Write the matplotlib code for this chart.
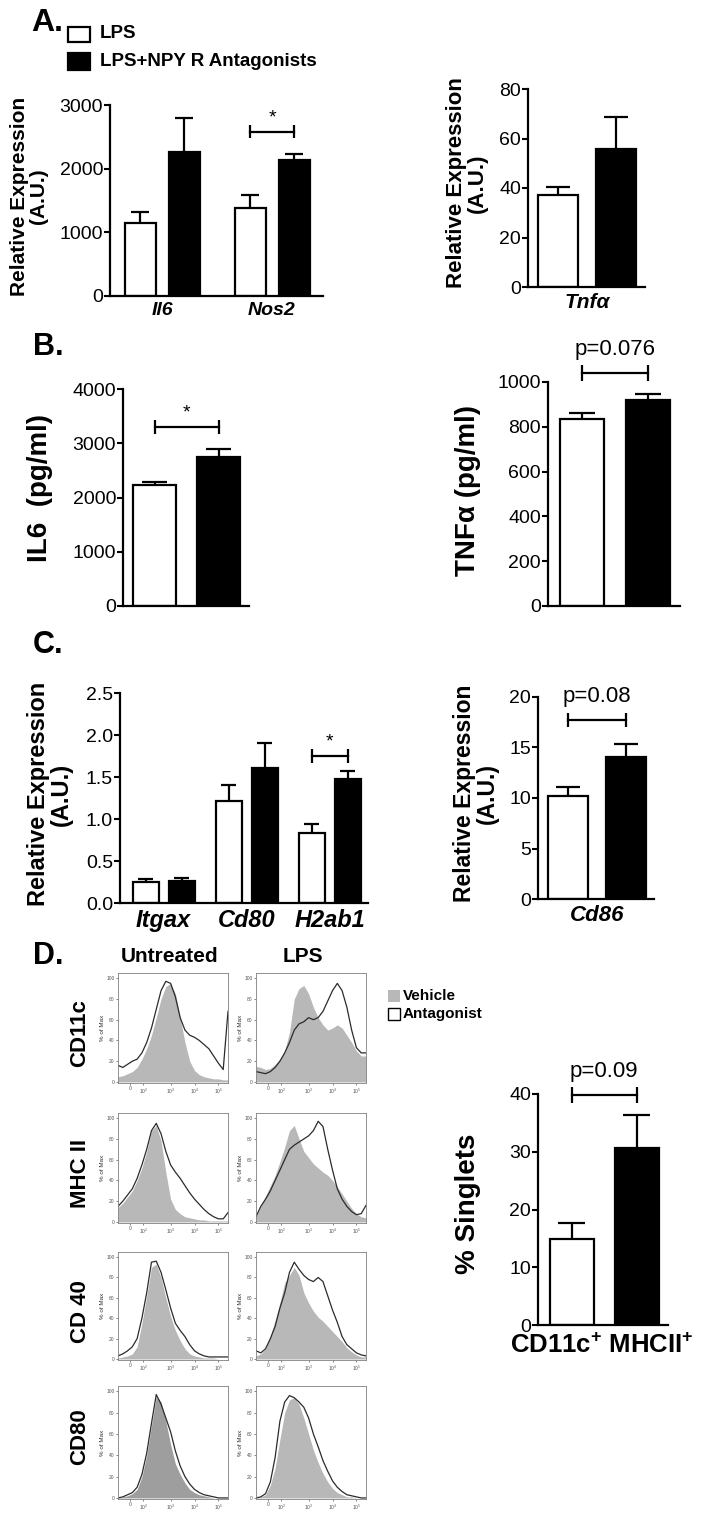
import numpy as np
import matplotlib

matplotlib.use("Agg")
import matplotlib.pyplot as plt
from matplotlib.patches import Rectangle

plt.rcParams["font.family"] = ["Liberation Sans", "DejaVu Sans"]
plt.rcParams["mathtext.fontset"] = "custom"
plt.rcParams["mathtext.rm"] = "Liberation Sans"
plt.rcParams["mathtext.bf"] = "Liberation Sans:bold"
plt.rcParams["mathtext.it"] = "Liberation Sans:italic"

W, H = 704, 1518

# ---------------- data ----------------
# A. qPCR, relative expression (mean, sem)
a_genes = ["Il6", "Nos2"]
a_lps = [1150, 1390]
a_lps_sem = [170, 200]
a_ant = [2260, 2135]
a_ant_sem = [530, 90]

tnf_genes = ["Tnfα"]
tnf_lps = [37.2]
tnf_lps_sem = [3.3]
tnf_ant = [55.8]
tnf_ant_sem = [12.7]

# B. ELISA (pg/ml)
il6_lps = [2230]
il6_lps_sem = [50]
il6_ant = [2750]
il6_ant_sem = [135]

tnfp_lps = [836]
tnfp_lps_sem = [27]
tnfp_ant = [921]
tnfp_ant_sem = [27]

# C. activation markers
c_genes = ["Itgax", "Cd80", "H2ab1"]
c_lps = [0.245, 1.22, 0.835]
c_lps_sem = [0.045, 0.19, 0.105]
c_ant = [0.262, 1.61, 1.48]
c_ant_sem = [0.036, 0.30, 0.095]

cd86_genes = ["Cd86"]
cd86_lps = [10.2]
cd86_lps_sem = [0.85]
cd86_ant = [14.05]
cd86_ant_sem = [1.25]

# D. % singlets CD11c+ MHCII+
sing_lps = [14.9]
sing_lps_sem = [2.8]
sing_ant = [30.6]
sing_ant_sem = [5.8]

# D. flow histograms (% of max) on a biexponential display scale
hist_x = [0.8, 1.0, 1.2, 1.4, 1.6, 1.8, 2.0, 2.2, 2.4, 2.6, 2.8, 3.0,
          3.2, 3.4, 3.6, 3.8, 4.0, 4.2, 4.4, 4.6, 4.8, 5.0, 5.2, 5.4]
hist_ticks = [1.3, 1.85, 3.0, 4.0, 5.0]
hist_ticklabels = ["0", "$10^2$", "$10^3$", "$10^4$", "$10^5$"]

cd11c_untr_veh = [5, 6, 8, 10, 14, 22, 32, 45, 62, 80, 92, 95, 85, 62, 38, 20, 11, 7, 5, 4, 3, 3, 2, 2]
cd11c_untr_ant = [16, 14, 17, 20, 22, 28, 38, 52, 70, 88, 97, 95, 82, 62, 50, 45, 43, 40, 36, 32, 25, 18, 12, 68]
cd11c_lps_veh = [15, 14, 12, 13, 17, 22, 30, 48, 80, 90, 93, 85, 72, 62, 55, 50, 52, 55, 52, 45, 38, 30, 25, 25]
cd11c_lps_ant = [10, 9, 8, 10, 14, 20, 28, 38, 50, 56, 58, 62, 60, 62, 68, 78, 88, 95, 88, 72, 50, 33, 28, 28]
mhc_untr_veh = [14, 18, 24, 30, 40, 52, 68, 88, 93, 78, 48, 22, 12, 8, 5, 4, 3, 2, 2, 1, 1, 1, 1, 1]
mhc_untr_ant = [15, 20, 26, 32, 42, 55, 70, 88, 95, 85, 68, 55, 48, 42, 35, 28, 22, 17, 12, 8, 5, 3, 3, 9]
mhc_lps_veh = [5, 15, 25, 35, 45, 58, 72, 88, 93, 80, 68, 62, 56, 52, 48, 45, 40, 34, 27, 20, 13, 8, 5, 4]
mhc_lps_ant = [5, 15, 22, 30, 40, 50, 60, 70, 74, 77, 80, 83, 88, 97, 92, 70, 50, 32, 22, 15, 10, 7, 8, 16]
cd40_untr_veh = [1, 2, 3, 5, 12, 35, 62, 90, 93, 80, 60, 42, 28, 18, 10, 5, 3, 2, 1, 1, 1, 0, 0, 0]
cd40_untr_ant = [3, 5, 8, 12, 20, 40, 65, 95, 96, 85, 68, 50, 35, 28, 22, 14, 8, 5, 3, 2, 2, 2, 2, 2]
cd40_lps_veh = [3, 5, 10, 22, 38, 55, 75, 82, 90, 82, 65, 55, 47, 41, 37, 32, 27, 22, 17, 11, 7, 4, 2, 2]
cd40_lps_ant = [8, 6, 10, 20, 32, 50, 65, 85, 95, 88, 82, 78, 76, 80, 76, 62, 48, 36, 22, 14, 10, 6, 4, 3]
cd80_untr_veh = [0, 1, 2, 4, 8, 20, 40, 68, 95, 90, 72, 50, 32, 22, 14, 8, 5, 3, 2, 1, 0, 0, 0, 0]
cd80_untr_ant = [0, 1, 3, 5, 10, 22, 42, 70, 97, 88, 75, 62, 44, 30, 20, 13, 8, 5, 3, 2, 1, 0, 0, 0]
cd80_lps_veh = [0, 1, 3, 12, 28, 55, 80, 92, 94, 88, 75, 60, 45, 33, 23, 15, 9, 5, 3, 1, 1, 0, 0, 0]
cd80_lps_ant = [0, 1, 4, 15, 38, 72, 90, 96, 94, 90, 85, 75, 60, 48, 35, 25, 16, 10, 6, 3, 2, 1, 0, 0]

hist_rows = ["CD11c", "MHC II", "CD 40", "CD80"]
hist_data = [
    [(cd11c_untr_veh, cd11c_untr_ant), (cd11c_lps_veh, cd11c_lps_ant)],
    [(mhc_untr_veh, mhc_untr_ant), (mhc_lps_veh, mhc_lps_ant)],
    [(cd40_untr_veh, cd40_untr_ant), (cd40_lps_veh, cd40_lps_ant)],
    [(cd80_untr_veh, cd80_untr_ant), (cd80_lps_veh, cd80_lps_ant)],
]

fig = plt.figure(figsize=(W / 100, H / 100), dpi=100)


def px_axes(left, top, right, bottom):
    return fig.add_axes([left / W, 1 - bottom / H, (right - left) / W, (bottom - top) / H])


def bar_panel(box, labels, lps, lps_sem, ant, ant_sem, ymax, ystep, fmt,
              first, gap, off, width, label_size=14):
    ax = px_axes(*box)
    n = len(lps)
    xw = [first + i * gap for i in range(n)]
    xb = [x + off for x in xw]
    ax.bar(xw, lps, width, color="white", edgecolor="black", lw=1.6, zorder=2)
    ax.bar(xb, ant, width, color="black", edgecolor="black", lw=1.6, zorder=2)
    for xs, m, e in ((xw, lps, lps_sem), (xb, ant, ant_sem)):
        tops = [a + b for a, b in zip(m, e)]
        ax.vlines(xs, m, tops, color="black", lw=1.6, zorder=1)
        ax.hlines(tops, [x - 0.3 * width for x in xs], [x + 0.3 * width for x in xs],
                  color="black", lw=1.6, zorder=1)
    ax.set_xlim(0, box[2] - box[0])
    ax.set_ylim(0, ymax)
    ax.spines[["top", "right"]].set_visible(False)
    ax.spines["left"].set_linewidth(1.6)
    ax.spines["bottom"].set_linewidth(1.6)
    ticks = np.arange(0, ymax + ystep / 2, ystep)
    ax.set_yticks(ticks, [fmt.format(t) for t in ticks])
    ax.tick_params(axis="y", direction="out", length=4, width=1.5, labelsize=14, pad=1)
    if labels:
        ax.set_xticks([(a + b) / 2 for a, b in zip(xw, xb)], labels)
        for t in ax.get_xticklabels():
            t.set_fontstyle("italic")
            t.set_fontweight("bold")
            t.set_fontsize(label_size)
    else:
        ax.set_xticks([])
    ax.tick_params(axis="x", length=0, pad=4)
    ax.patch.set_alpha(0)
    return ax, xw, xb


def bracket(ax, x1, x2, y, text, ymax, star=True):
    d = 0.034 * ymax
    ax.plot([x1, x2], [y, y], color="black", lw=1.6, clip_on=False)
    ax.vlines([x1, x2], y - d, y + d, color="black", lw=1.6, clip_on=False)
    if star:
        ax.annotate(text, ((x1 + x2) / 2, y), xytext=(0, 10), textcoords="offset points",
                    ha="center", va="center", fontsize=14, annotation_clip=False)
    else:
        ax.annotate(text, ((x1 + x2) / 2, y), xytext=(0, 17), textcoords="offset points",
                    ha="center", va="center", fontsize=16, annotation_clip=False)


def ylab(x, y, s, size):
    fig.text(x / W, 1 - y / H, s, rotation=90, ha="center", va="center",
             fontsize=size, fontweight="bold", linespacing=1.0)


# ---------------- panel A ----------------
fig.text(31 / W, 1 - 23 / H, "A.", fontsize=23, fontweight="bold", ha="left", va="center")
fig.add_artist(Rectangle((68 / W, 1 - 42 / H), 22 / W, 15 / H, transform=fig.transFigure,
                         facecolor="white", edgecolor="black", lw=1.6))
fig.add_artist(Rectangle((68 / W, 1 - 70 / H), 22 / W, 17 / H, transform=fig.transFigure,
                         facecolor="black", edgecolor="black", lw=1.6))
fig.text(100 / W, 1 - 34 / H, "LPS", fontsize=13.5, fontweight="bold", va="center")
fig.text(100 / W, 1 - 61 / H, "LPS+NPY R Antagonists", fontsize=13.5, fontweight="bold", va="center")

ax, xw, xb = bar_panel((110, 105, 323, 296), a_genes, a_lps, a_lps_sem, a_ant, a_ant_sem,
                       3000, 1000, "{:.0f}", 30, 110, 44, 31, label_size=14)
bracket(ax, xw[1], xb[1], 2580, "*", 3000)
ylab(29, 196, "Relative Expression\n(A.U.)", 15)

ax, xw, xb = bar_panel((528, 89, 645, 287), tnf_genes, tnf_lps, tnf_lps_sem, tnf_ant, tnf_ant_sem,
                       80, 20, "{:.0f}", 30, 0, 58, 40, label_size=15)
ylab(467, 183, "Relative Expression\n(A.U.)", 16)

# ---------------- panel B ----------------
fig.text(33 / W, 1 - 347 / H, "B.", fontsize=22, fontweight="bold", ha="left", va="center")
ax, xw, xb = bar_panel((123, 389, 249, 606), None, il6_lps, il6_lps_sem, il6_ant, il6_ant_sem,
                       4000, 1000, "{:.0f}", 31.5, 0, 64, 43)
bracket(ax, xw[0], xb[0], 3300, "*", 4000)
ylab(40, 488, "IL6  (pg/ml)", 20)

ax, xw, xb = bar_panel((548, 382, 680, 606), None, tnfp_lps, tnfp_lps_sem, tnfp_ant, tnfp_ant_sem,
                       1000, 200, "{:.0f}", 34, 0, 66, 44)
bracket(ax, xw[0], xb[0], 1040, "p=0.076", 1000, star=False)
ylab(468, 490, "TNFα (pg/ml)", 20)

# ---------------- panel C ----------------
fig.text(33 / W, 1 - 645 / H, "C.", fontsize=22, fontweight="bold", ha="left", va="center")
ax, xw, xb = bar_panel((120, 693, 368, 903), c_genes, c_lps, c_lps_sem, c_ant, c_ant_sem,
                       2.5, 0.5, "{:.1f}", 25.5, 83, 36, 26, label_size=17)
bracket(ax, xw[2], xb[2], 1.75, "*", 2.5)
ylab(50, 794, "Relative Expression\n(A.U.)", 17)

ax, xw, xb = bar_panel((538, 697, 654, 899), cd86_genes, cd86_lps, cd86_lps_sem, cd86_ant, cd86_ant_sem,
                       20, 5, "{:.0f}", 29.5, 0, 58.5, 40, label_size=16)
bracket(ax, xw[0], xb[0], 17.7, "p=0.08", 20, star=False)
ylab(476, 793, "Relative Expression\n(A.U.)", 16.5)

# ---------------- panel D ----------------
fig.text(33 / W, 1 - 956 / H, "D.", fontsize=22, fontweight="bold", ha="left", va="center")
fig.text(170 / W, 1 - 956 / H, "Untreated", fontsize=15, fontweight="bold", ha="center", va="center")
fig.text(303 / W, 1 - 956 / H, "LPS", fontsize=15, fontweight="bold", ha="center", va="center")

col_x = [(118, 228), (256, 366)]
row_y = [(973, 1083), (1113, 1223), (1252, 1360), (1386, 1499)]
row_label_y = [1033, 1173, 1312, 1437]
for r, name in enumerate(hist_rows):
    fig.text(80 / W, 1 - row_label_y[r] / H, name, rotation=90, fontsize=16,
             fontweight="bold", ha="center", va="center")
    for c in range(2):
        veh, ant = hist_data[r][c]
        ax = px_axes(col_x[c][0], row_y[r][0], col_x[c][1], row_y[r][1])
        shade = "#9e9e9e" if (r == 3 and c == 0) else "#b8b8b8"
        ax.fill_between(hist_x, veh, color=shade, lw=0)
        ax.plot(hist_x, ant, color="#2b2b2b", lw=0.9)
        ax.set_xlim(0.8, 5.4)
        ax.set_ylim(-1, 105)
        for s in ax.spines.values():
            s.set_linewidth(0.6)
            s.set_color("#808080")
        ax.set_yticks([0, 20, 40, 60, 80, 100])
        ax.set_xticks(hist_ticks, hist_ticklabels)
        ax.tick_params(labelsize=3.5, length=1.5, width=0.5, pad=1, colors="#555555")
        ax.set_ylabel("% of Max", fontsize=4.5, labelpad=1, color="#333333")

# histogram legend
fig.add_artist(Rectangle((388 / W, 1 - 1002 / H), 12 / W, 12 / H, transform=fig.transFigure,
                         facecolor="#b8b8b8", edgecolor="none"))
fig.add_artist(Rectangle((388 / W, 1 - 1020 / H), 12 / W, 12 / H, transform=fig.transFigure,
                         facecolor="white", edgecolor="black", lw=1.0))
fig.text(403 / W, 1 - 996 / H, "Vehicle", fontsize=11, fontweight="bold", va="center")
fig.text(403 / W, 1 - 1014 / H, "Antagonist", fontsize=11, fontweight="bold", va="center")

ax, xw, xb = bar_panel((538, 1094, 668, 1325), None, sing_lps, sing_lps_sem, sing_ant, sing_ant_sem,
                       40, 10, "{:.0f}", 33.5, 0, 65, 44)
bracket(ax, xw[0], xb[0], 39.8, "p=0.09", 40, star=False)
ylab(468, 1204, "% Singlets", 20)
fig.text(602 / W, 1 - 1346 / H, r"CD11c$^{\mathbf{+}}$ MHCII$^{\mathbf{+}}$", fontsize=18.5,
         fontweight="bold", ha="center", va="center")

fig.savefig("out.png", dpi=100)
plt.close(fig)
